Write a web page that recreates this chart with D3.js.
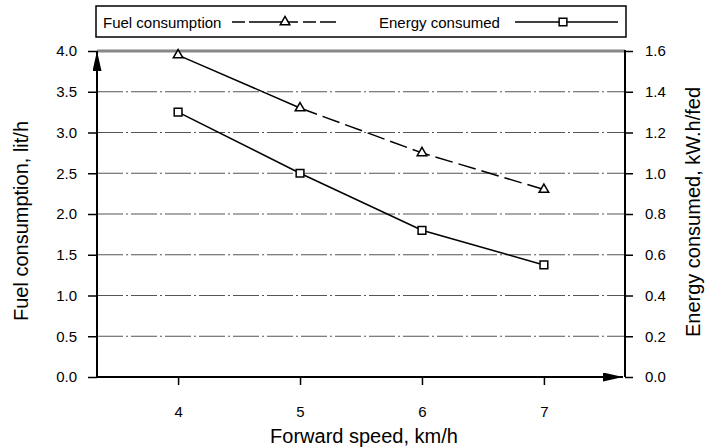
<!DOCTYPE html>
<html>
<head>
<meta charset="utf-8">
<script src="https://cdn.jsdelivr.net/npm/d3@7"></script>
<style>
  body { margin: 0; background: #fff; }
  svg { display: block; font-family: "Liberation Sans", Arial, sans-serif; }
</style>
</head>
<body>
<svg id="chart" width="705" height="448"></svg>
<script>
// Data
const speeds = [4, 5, 6, 7];
const fuelConsumption = [3.95, 3.3, 2.75, 2.3];     // lit/h (left axis)
const energyConsumed = [1.3, 1.0, 0.72, 0.55];      // kW.h/fed (right axis)
const leftTicks = [0, 0.5, 1, 1.5, 2, 2.5, 3, 3.5, 4];
const rightTicks = [0, 0.2, 0.4, 0.6, 0.8, 1.0, 1.2, 1.4, 1.6];

const svg = d3.select('#chart');

// Plot area edges
const plotL = 97, plotR = 625, plotT = 51, plotB = 377;

const x = d3.scaleLinear().domain([3.335, 7.665]).range([plotL, plotR]);
const yL = d3.scaleLinear().domain([0, 4]).range([plotB, plotT]);
const yR = d3.scaleLinear().domain([0, 1.6]).range([plotB, plotT]);

// Arrow marker
svg.append('defs').append('marker')
  .attr('id', 'arrow')
  .attr('viewBox', '0 0 10 10')
  .attr('refX', 10).attr('refY', 5)
  .attr('markerUnits', 'userSpaceOnUse')
  .attr('markerWidth', 20).attr('markerHeight', 9)
  .attr('orient', 'auto')
  .attr('preserveAspectRatio', 'none')
  .append('path').attr('d', 'M0,0 L10,5 L0,10 Z').attr('fill', '#000');

// Gridlines (dash-dot)
svg.append('g')
  .selectAll('line')
  .data(leftTicks.filter(d => d > 0 && d < 4))
  .enter().append('line')
  .attr('x1', plotL).attr('x2', plotR)
  .attr('y1', d => yL(d)).attr('y2', d => yL(d))
  .attr('stroke', '#555')
  .attr('stroke-width', 1)
  .attr('stroke-dasharray', '26,3,2,3');

// Top border (gray)
svg.append('line')
  .attr('x1', plotL).attr('x2', plotR)
  .attr('y1', plotT).attr('y2', plotT)
  .attr('stroke', '#888').attr('stroke-width', 3);

function styleAxis(g) {
  g.select('.domain').remove();
  g.selectAll('.tick line').attr('stroke-width', 1.5);
  g.selectAll('text').attr('font-size', 15).attr('fill', '#000')
    .attr('font-family', '"Liberation Sans", Arial, sans-serif');
}

// Left axis
svg.append('g')
  .attr('transform', `translate(${plotL},0)`)
  .call(d3.axisLeft(yL).tickValues(leftTicks).tickFormat(d3.format('.1f')).tickSize(9).tickPadding(11))
  .call(styleAxis);

// Right axis
svg.append('g')
  .attr('transform', `translate(${plotR},0)`)
  .call(d3.axisRight(yR).tickValues(rightTicks).tickFormat(d3.format('.1f')).tickSize(8).tickPadding(12))
  .call(styleAxis);

// Bottom axis
svg.append('g')
  .attr('transform', `translate(0,${plotB})`)
  .call(d3.axisBottom(x).tickValues(speeds).tickFormat(d3.format('d')).tickSize(8).tickPadding(21))
  .call(styleAxis);

// Axis lines
svg.append('line')
  .attr('x1', plotR).attr('x2', plotR)
  .attr('y1', plotT - 1).attr('y2', plotB)
  .attr('stroke', '#000').attr('stroke-width', 2);
svg.append('line')
  .attr('x1', plotL).attr('x2', plotL)
  .attr('y1', plotB + 1).attr('y2', plotT)
  .attr('stroke', '#000').attr('stroke-width', 2)
  .attr('marker-end', 'url(#arrow)');
svg.append('line')
  .attr('x1', plotL - 1).attr('x2', plotR - 2)
  .attr('y1', plotB).attr('y2', plotB)
  .attr('stroke', '#000').attr('stroke-width', 2)
  .attr('marker-end', 'url(#arrow)');

// Series
const fuelPts = speeds.map((s, i) => [x(s), yL(fuelConsumption[i])]);
const energyPts = speeds.map((s, i) => [x(s), yR(energyConsumed[i])]);
const line = d3.line();

// Fuel: first segment solid, the rest dashed (as in the reference)
svg.append('path')
  .attr('d', line(fuelPts.slice(0, 2)))
  .attr('fill', 'none').attr('stroke', '#000').attr('stroke-width', 1.5);
svg.append('path')
  .attr('d', line(fuelPts.slice(1)))
  .attr('fill', 'none').attr('stroke', '#000').attr('stroke-width', 1.5)
  .attr('stroke-dasharray', '18,6');

svg.append('path')
  .attr('d', line(energyPts))
  .attr('fill', 'none').attr('stroke', '#000').attr('stroke-width', 1.5);

const tri = d3.symbol().type(d3.symbolTriangle).size(40);
const sq = d3.symbol().type(d3.symbolSquare).size(60);

svg.append('g').selectAll('path')
  .data(fuelPts)
  .enter().append('path')
  .attr('d', tri)
  .attr('transform', d => `translate(${d[0]},${d[1]})`)
  .attr('fill', '#fff').attr('stroke', '#000').attr('stroke-width', 1.5);

svg.append('g').selectAll('path')
  .data(energyPts)
  .enter().append('path')
  .attr('d', sq)
  .attr('transform', d => `translate(${d[0]},${d[1]})`)
  .attr('fill', '#fff').attr('stroke', '#000').attr('stroke-width', 1.5);

// Axis titles
svg.append('text')
  .attr('x', 364).attr('y', 443)
  .attr('text-anchor', 'middle').attr('font-size', 20)
  .text('Forward speed, km/h');
svg.append('text')
  .attr('transform', 'translate(28,221) rotate(-90)')
  .attr('text-anchor', 'middle').attr('font-size', 20)
  .text('Fuel consumption, lit/h');
svg.append('text')
  .attr('transform', 'translate(700,212) rotate(-90)')
  .attr('text-anchor', 'middle').attr('font-size', 20)
  .text('Energy consumed, kW.h/fed');

// Legend
const legend = svg.append('g');
legend.append('rect')
  .attr('x', 96).attr('y', 6).attr('width', 530).attr('height', 31)
  .attr('fill', '#fff').attr('stroke', '#000').attr('stroke-width', 1.5);
legend.append('text')
  .attr('x', 103).attr('y', 28).attr('font-size', 15).text('Fuel consumption');
legend.append('line')
  .attr('x1', 232).attr('x2', 336).attr('y1', 22).attr('y2', 22)
  .attr('stroke', '#000').attr('stroke-width', 1.5)
  .attr('stroke-dasharray', '13,4,29,0,20,5');
legend.append('path')
  .attr('d', tri)
  .attr('transform', 'translate(285,22)')
  .attr('fill', '#fff').attr('stroke', '#000').attr('stroke-width', 1.5);
legend.append('text')
  .attr('x', 379).attr('y', 28).attr('font-size', 15).text('Energy consumed');
legend.append('line')
  .attr('x1', 515).attr('x2', 618).attr('y1', 22).attr('y2', 22)
  .attr('stroke', '#000').attr('stroke-width', 1.5);
legend.append('path')
  .attr('d', sq)
  .attr('transform', 'translate(563,22)')
  .attr('fill', '#fff').attr('stroke', '#000').attr('stroke-width', 1.5);
</script>
</body>
</html>
